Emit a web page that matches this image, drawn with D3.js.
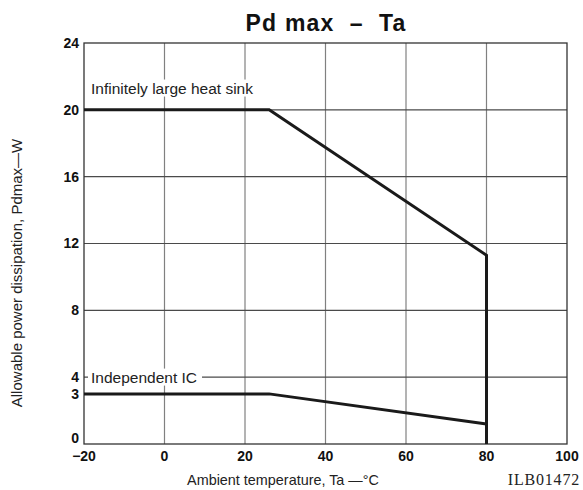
<!DOCTYPE html>
<html><head><meta charset="utf-8">
<script src="https://cdn.jsdelivr.net/npm/d3@7/dist/d3.min.js"></script>
<style>body{margin:0;background:#fff}</style>
</head><body>
<svg id="c" width="583" height="490"></svg>
<script>
const xTicks = [-20, 0, 20, 40, 60, 80, 100];
const yTicks = [0, 3, 4, 8, 12, 16, 20, 24];
const yGrid = [4, 8, 12, 16, 20];
const heatSinkT = [-20, 26, 80, 80];
const heatSinkP = [20, 20, 11.3, 0];
const icT = [-20, 26, 80];
const icP = [3, 3, 1.2];

const svg = d3.select("#c");
const x = d3.scaleLinear().domain([-20, 100]).range([84, 567]);
const y = d3.scaleLinear().domain([0, 24]).range([444, 43]);
const font = "Liberation Sans, Arial, sans-serif";

// grid
svg.append("g").selectAll("line").data(xTicks.slice(1, -1)).join("line")
  .attr("x1", d => x(d)).attr("x2", d => x(d)).attr("y1", y(24)).attr("y2", y(0))
  .attr("stroke", "#808080").attr("stroke-width", 1.2);
svg.append("g").selectAll("line").data(yGrid).join("line")
  .attr("x1", x(-20)).attr("x2", x(100)).attr("y1", d => y(d)).attr("y2", d => y(d))
  .attr("stroke", "#4a4a4a").attr("stroke-width", 1.2);

// in-plot labels with white backgrounds covering grid
const labels = [
  {t: "Infinitely large heat sink", xv: -20, yv: 21.3},
  {t: "Independent IC", xv: -20, yv: 4}
];
labels.forEach(l => {
  const tx = svg.append("text").attr("x", x(l.xv) + 7).attr("y", y(l.yv))
    .attr("dy", "0.35em").attr("font-family", font)
    .attr("font-size", 15.5).attr("fill", "#222").text(l.t);
  const bb = tx.node().getBBox();
  svg.insert("rect", "text").attr("x", bb.x - 3).attr("y", bb.y)
    .attr("width", bb.width + 8).attr("height", bb.height).attr("fill", "#fff");
});

// frame
svg.append("rect").attr("x", x(-20)).attr("y", y(24))
  .attr("width", x(100) - x(-20)).attr("height", y(0) - y(24))
  .attr("fill", "none").attr("stroke", "#333").attr("stroke-width", 1.3);

// data lines
const line = d3.line().x(d => x(d[0])).y(d => y(d[1]));
svg.append("path").datum(heatSinkT.map((t, i) => [t, heatSinkP[i]]))
  .attr("d", line).attr("fill", "none").attr("stroke", "#1a1a1a").attr("stroke-width", 3);
svg.append("path").datum(icT.map((t, i) => [t, icP[i]]))
  .attr("d", line).attr("fill", "none").attr("stroke", "#1a1a1a").attr("stroke-width", 3);

// tick labels
svg.append("g").selectAll("text").data(xTicks).join("text")
  .attr("x", d => x(d)).attr("y", 461).attr("text-anchor", "middle")
  .attr("font-family", font).attr("font-weight", "bold").attr("font-size", 14)
  .attr("fill", "#111").text(d => d === -20 ? "\u221220" : d);
svg.append("g").selectAll("text").data(yTicks).join("text")
  .attr("x", 79).attr("y", d => d === 0 ? y(d) - 6 : y(d)).attr("dy", "0.35em").attr("text-anchor", "end")
  .attr("font-family", font).attr("font-weight", "bold").attr("font-size", 14)
  .attr("fill", "#111").text(d => d);

// title
svg.append("text").attr("x", 326).attr("y", 31).attr("text-anchor", "middle")
  .attr("font-family", font).attr("font-weight", "bold").attr("font-size", 23)
  .attr("letter-spacing", 1.2)
  .attr("fill", "#111").attr("xml:space", "preserve").text("Pd max  \u2013  Ta");

// axis titles
svg.append("text").attr("x", 283).attr("y", 485).attr("text-anchor", "middle")
  .attr("font-family", font).attr("font-size", 14.4).attr("fill", "#222")
  .text("Ambient temperature, Ta \u2014\u00B0C");
svg.append("text").attr("transform", "translate(22,273) rotate(-90)").attr("text-anchor", "middle")
  .attr("font-family", font).attr("font-size", 15).attr("fill", "#222")
  .text("Allowable power dissipation, Pdmax\u2014W");
svg.append("text").attr("x", 580).attr("y", 485).attr("text-anchor", "end")
  .attr("font-family", "Liberation Serif, Times New Roman, serif").attr("font-size", 16)
  .attr("letter-spacing", 0.8)
  .attr("fill", "#222").text("ILB01472");
</script>
</body></html>
